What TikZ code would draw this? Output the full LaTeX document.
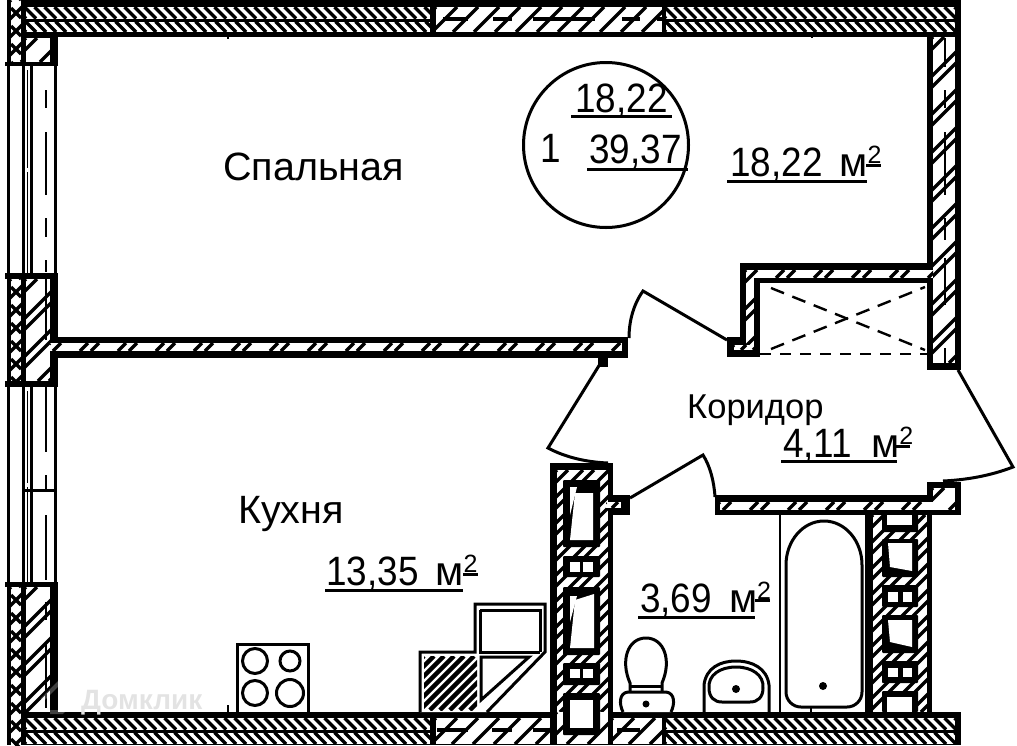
\documentclass[tikz,border=0pt]{standalone}
\usepackage{fontspec}
\setmainfont{Liberation Sans}
\newfontfamily\numfont[FakeStretch=0.9]{Liberation Sans}
\usepackage{tikz}

% box with slanted strokes: x1,y1,x2,y2, gap, 0 = / or 1 = \, list of offsets
\newcommand{\hatchbox}[7]{%
  \begin{scope}
    \clip (#1,#2) rectangle (#3,#4);
    \fill[white] (#1,#2) rectangle (#3,#4);
    \pgfmathsetmacro{\hh}{#4-#2}
    \pgfmathsetmacro{\xs}{#1-\hh-#5}
    \pgfmathsetmacro{\xt}{\xs+#5}
    \pgfmathsetmacro{\xe}{#3+\hh}
    \foreach \off in {#7} {
      \foreach \px in {\xs,\xt,...,\xe} {
        \draw[stroke] (\px+\off+#6*\hh,#4) -- (\px+\off+\hh-#6*\hh,#2);
      }
    }
  \end{scope}}
\newcommand{\pairbox}[4]{\hatchbox{#1}{#2}{#3}{#4}{38}{0}{0,11}}
\newcommand{\crossbox}[4]{\hatchbox{#1}{#2}{#3}{#4}{18}{0}{0}%
  \begin{scope}\clip (#1,#2) rectangle (#3,#4);
    \foreach \yy in {-10,8,...,200} {\draw[stroke] (#1,#2+\yy) -- (#3,#2+\yy+#3-#1);}
  \end{scope}}
\newcommand{\sqm}{{\normalfont\fontsize{41}{41}\selectfont м}\raisebox{13pt}{\normalfont\fontsize{25}{25}\selectfont 2}}

\begin{document}
\begin{tikzpicture}[
  x=1pt, y=-1pt,
  stroke/.style={line width=3.4pt},
  fine/.style={line width=2.4pt},
  leaf/.style={line width=3pt},
  bigtext/.style={font=\numfont\fontsize{41}{41}\selectfont, inner sep=0pt, anchor=base west},
  roomtext/.style={font=\fontsize{39.5}{40}\selectfont, inner sep=0pt, anchor=base west},
  halltext/.style={font=\fontsize{34.5}{35}\selectfont, inner sep=0pt, anchor=base west},
  under/.style={line width=3pt},
  plate/.style={line width=3pt, fill=white}
]
  \useasboundingbox (0,0) rectangle (1017,745);

  % outer walls
  \fill (22,0) rectangle (961,37);
  \fill (22,712) rectangle (961,745);
  \foreach \ya/\yb in {7/18.5,21.5/32} {
    \hatchbox{26}{\ya}{430}{\yb}{10}{1}{0}
    \hatchbox{666}{\ya}{955}{\yb}{10}{1}{0}
  }
  \foreach \ya/\yb in {718/729.5,732.5/744} {
    \hatchbox{26}{\ya}{430}{\yb}{10}{1}{0}
    \hatchbox{666}{\ya}{955}{\yb}{10}{1}{0}
  }
  \hatchbox{436}{7}{662}{32}{21}{0}{0}
  \hatchbox{436}{718}{608}{744}{21}{0}{0}
  \hatchbox{613}{718}{662}{744}{21}{0}{0}
  \foreach \xa/\xb in {443/468,493/512,533/595,622/640,657/662} {
    \draw[stroke] (\xa,19) -- (\xb,19);
  }
  \foreach \xa/\xb in {437/468,492/512,533/597,617/640} {
    \draw[stroke] (\xa,730) -- (\xb,730);
  }
  \draw[fine] (228,35) -- (228,39);
  \draw[fine] (228,705) -- (228,714);
  \draw[fine] (812,35) -- (812,38);

  % left piers
  \fill (7,0) rectangle (26,66);
  \fill (5,62) rectangle (58,66);
  \fill (26,37) rectangle (58,62);
  \fill (5,273) rectangle (58,279);
  \fill (5,381) rectangle (58,387);
  \fill (7,279) rectangle (58,381);
  \fill (5,582) rectangle (58,587);
  \fill (7,587) rectangle (58,712);
  \fill (7,712) rectangle (26,745);
  \crossbox{11}{0}{21}{62}
  \crossbox{11}{279}{21}{381}
  \crossbox{11}{587}{21}{745}
  \pairbox{26}{38}{50}{62}
  \pairbox{26}{279}{50}{381}
  \pairbox{26}{587}{50}{712}

  % window bands
  \foreach \ya/\yb in {66/273,387/582} {
    \draw[leaf] (8.5,\ya) -- (8.5,\yb);
    \draw[leaf] (55,\ya) -- (55,\yb);
    \draw[leaf] (23.5,\ya) -- (23.5,\yb);
    \draw[leaf] (31.5,\ya) -- (31.5,\yb);
    \draw[line width=1pt] (27.5,\ya) -- (27.5,\yb);
  }
  \foreach \ya in {68,170,389,485} {
    \fill[white] (25,\ya-2) rectangle (30,\ya+2);
  }
  \draw[leaf] (23,490) -- (55,490);
  \foreach \ya/\yb in {90/108,132/195,218/237,260/272,387/452,475/490,515/580} {
    \draw[fine] (46,\ya) -- (46,\yb);
  }
  \foreach \ya/\yb in {279/340,602/620,643/708} {
    \draw[fine] (46,\ya) -- (46,\yb);
  }

  % right wall
  \fill (927,37) rectangle (961,370);
  \pairbox{933}{37}{955}{363}
  \foreach \ya/\yb in {38/67,90/108,132/195,218/240,258/305,348/363} {
    \draw[fine] (945,\ya) -- (945,\yb);
  }

  % partition between rooms
  \fill (50,337) rectangle (628,358);
  \hatchbox{50}{343}{622}{351}{38}{0}{0,11}
  \fill (597,351) rectangle (612,358);
  \fill (598,355) rectangle (608,367);

  % closet
  \fill (740,263) rectangle (927,283);
  \fill (740,263) rectangle (760,357);
  \fill (727,337) rectangle (760,357);
  \hatchbox{746}{270}{933}{278}{38}{0}{0,11}
  \hatchbox{746}{270}{754}{347}{38}{0}{0,11}
  \hatchbox{734}{345}{754}{350}{12}{0}{0}
  \draw[fine, dash pattern=on 11pt off 9pt] (760,354) -- (927,354);
  \draw[fine, dash pattern=on 14pt off 9pt] (771,288) -- (925,350);
  \draw[fine, dash pattern=on 14pt off 9pt] (771,349) -- (925,287);

  % corridor lower wall and stubs
  \fill (715,495) rectangle (935,515);
  \fill (927,482) rectangle (961,515);
  \hatchbox{720}{502}{940}{510}{38}{0}{0,11}
  \hatchbox{933}{488}{955}{510}{38}{0}{0,11}

  % shaft by the kitchen
  \fill (550,463) rectangle (613,745);
  \hatchbox{557}{470}{608}{712}{26}{0}{0,11}
  \hatchbox{557}{712}{608}{744}{21}{0}{0}
  \fill (613,495) rectangle (630,515);
  \hatchbox{606}{502}{621}{508}{12}{0}{0}
  \fill (608,712) rectangle (613,745);
  \fill (430,712) rectangle (436,745);
  \fill (662,712) rectangle (666,745);
  \fill (430,0) rectangle (436,37);
  \fill (662,0) rectangle (666,37);
  \foreach \ya/\yb in {480/547,556/577,587/655,663/685,693/735} {
    \fill[rounded corners=1pt] (563,\ya) rectangle (600,\yb);
  }
  \fill[white] (575,493) -- (593,493) -- (593,540) -- (570,540) -- cycle;
  \fill[white] (570,487) -- (577,487) -- (570,515) -- cycle;
  \fill[white] (575,600) -- (594,594) -- (594,648) -- (570,648) -- cycle;
  \fill[white] (570,596) -- (577,596) -- (570,622) -- cycle;
  \fill[white] (570,700) rectangle (593,728);
  \foreach \ya/\yb in {562/572,669/678} {
    \fill[white] (570,\ya) rectangle (580,\yb);
    \fill[white] (583,\ya) rectangle (593,\yb);
  }

  % shaft by the bath
  \fill (865,515) rectangle (932,712);
  \hatchbox{873}{515}{927}{712}{26}{0}{0,11}
  \foreach \ya/\yb in {510/532,539/577,585/607,615/653,661/683,691/712} {
    \fill[rounded corners=1pt] (882,\ya) rectangle (918,\yb);
  }
  \fill[white] (887,515) rectangle (912,525);
  \fill[white] (888,543) -- (912,543) -- (912,571) -- (890,567) -- cycle;
  \fill[white] (888,620) -- (912,620) -- (912,647) -- (890,642) -- cycle;
  \fill[white] (887,697) rectangle (912,712);
  \foreach \ya/\yb in {592/602,668/677} {
    \fill[white] (888,\ya) rectangle (898,\yb);
    \fill[white] (903,\ya) rectangle (912,\yb);
  }

  % doors
  \draw[leaf] (600,364) -- (548,448) .. controls (565,457) and (585,462) .. (608,463);
  \draw[leaf] (727,340) -- (643,291) .. controls (633,305) and (629,322) .. (629,338);
  \draw[leaf] (958,370) -- (1013,467) .. controls (990,476) and (965,480) .. (943,481);
  \draw[leaf] (630,498) -- (703,455) .. controls (710,466) and (714,481) .. (715,497);

  % bath, basin, toilet
  \draw[fine] (780,515) -- (780,712);
  \draw[leaf] (786,692) -- (786,565) arc[start angle=180, end angle=360, x radius=38, y radius=44]
    -- (862,692) arc[start angle=0, end angle=90, radius=15] -- (801,707)
    arc[start angle=90, end angle=180, radius=15] -- cycle;
  \fill (823,686) circle (4);
  \draw[fine] (811,707) -- (811,712);

  \draw[leaf] (704,712) -- (704,685) .. controls (706,668) and (720,661) .. (736,661)
    .. controls (752,661) and (767,668) .. (769,685) -- (769,712);
  \draw[leaf] (709,688) .. controls (708,675) and (720,667) .. (736,667)
    .. controls (752,667) and (764,675) .. (763,688) .. controls (763,697) and (758,702) .. (750,702)
    -- (722,702) .. controls (714,702) and (709,697) .. (709,688) -- cycle;
  \fill (736,689) circle (4);

  \draw[plate] (623,712) .. controls (619,704) and (619,693) .. (628,692) -- (666,692)
    .. controls (675,693) and (675,704) .. (671,712);
  \draw[leaf] (630,692) -- (630,683) .. controls (620,660) and (628,638) .. (646,638)
    .. controls (664,638) and (672,660) .. (662,683) -- (662,692);
  \draw[leaf] (630,686) -- (662,686);
  \fill (646,704) circle (3.5);

  % cooktop
  \draw[plate] (237,712) -- (237,644) -- (308,644) -- (308,712);
  \draw[leaf] (255,661) circle (12.5);
  \draw[leaf] (290,661) circle (10);
  \draw[leaf] (255,693) circle (12.5);
  \draw[leaf] (290,693) circle (13.5);

  % kitchen sink
  \draw[plate] (420,712) -- (420,652) -- (475,652) -- (475,604) -- (545,604) -- (545,652) -- (487,712);
  \draw[leaf] (480,610) -- (540,610) -- (540,652);
  \draw[leaf] (480,610) -- (480,652) -- (540,652);
  \draw[leaf] (481,657) -- (529,657) -- (481,700) -- cycle;
  \fill[white] (423,655) rectangle (477,710);
  \begin{scope}[stroke/.style={line width=4.5pt}]
    \hatchbox{424}{656}{477}{710}{10}{0}{0}
  \end{scope}

  % room labels
  \node[roomtext] (bedroom) at (223,180) {Спальная};
  \node[roomtext] (kitchen) at (238,523) {Кухня};
  \node[halltext] (hall) at (687,418) {Коридор};
  \node[bigtext] (bedarea) at (730,176) {18,22\hspace{17pt}\sqm};
  \node[bigtext] (kitchenarea) at (326,585) {13,35\hspace{17pt}\sqm};
  \node[bigtext] (hallarea) at (783,457) {4,11\hspace{19pt}\sqm};
  \node[bigtext] (batharea) at (640,612) {3,69\hspace{17pt}\sqm};
  \draw[under] (727,181) -- (867,181);
  \draw[under] (866,165) -- (881,165);
  \draw[under] (325,590) -- (463,590);
  \draw[under] (463,574) -- (478,574);
  \draw[under] (781,461) -- (897,461);
  \draw[under] (895,446) -- (910,446);
  \draw[under] (638,617) -- (755,617);
  \draw[under] (755,600) -- (770,600);

  % flat sign
  \node[draw, circle, line width=3pt, minimum size=165pt, inner sep=0pt] (sign) at (606,145) {};
  \node[bigtext] (signtop) at (575,112) {18,22};
  \node[bigtext] (signnum) at (540,162) {1};
  \node[bigtext] (signall) at (589,163) {39,37};
  \draw[under] (571,116) -- (672,116);
  \draw[under] (587,169) -- (688,169);

  % watermark
  \node[font=\fontsize{28}{28}\selectfont\bfseries, text=black!11, inner sep=0pt, anchor=base west] (brand) at (81,709) {Домклик};
  \draw[line width=4pt, white, opacity=0.25] (42,700) -- (58,684) -- (74,700) -- (62,712) -- (50,712);
\end{tikzpicture}
\end{document}
